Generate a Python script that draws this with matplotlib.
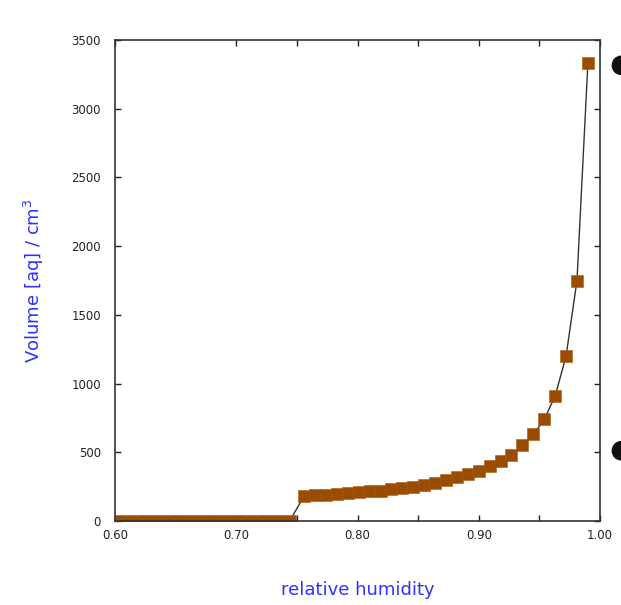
import matplotlib
matplotlib.use("Agg")
import matplotlib.pyplot as plt
from matplotlib.patches import Ellipse

# relative humidity / aqueous volume (cm^3)
rh_dry = [0.600, 0.609, 0.618, 0.627, 0.636, 0.645, 0.654, 0.663, 0.672,
          0.681, 0.690, 0.699, 0.708, 0.717, 0.726, 0.735, 0.744]
vol_dry = [0] * len(rh_dry)

rh_wet = [0.756, 0.765, 0.774, 0.783, 0.792, 0.801, 0.810, 0.819, 0.828,
          0.837, 0.846, 0.855, 0.864, 0.873, 0.882, 0.891, 0.900, 0.909,
          0.918, 0.927, 0.936, 0.945, 0.954, 0.963, 0.972, 0.981, 0.990]
vol_wet = [182, 186, 191, 196, 202, 208, 215, 222, 230, 239, 250, 262, 278,
           298, 320, 340, 364, 400, 437, 478, 550, 630, 740, 910, 1200,
           1750, 3330]

rh = rh_dry + rh_wet
vol = vol_dry + vol_wet

xticks = [0.60, 0.70, 0.80, 0.90, 1.00]
xlabels = ['0.60', '0.70', '0.80', '0.90', '1.00']
yticks = [0, 500, 1000, 1500, 2000, 2500, 3000, 3500]

fig = plt.figure(figsize=(6.21, 6.05), dpi=100)
ax = fig.add_axes([0.1852, 0.1388, 0.781, 0.7951])

ax.plot(rh, vol, color='#333333', lw=1.0, zorder=2)
ax.plot(rh, vol, ls='none', marker='s', ms=8, color='#9a4d00',
        mec='#a65a14', mew=0.4, zorder=3)

ax.set_xlim(0.60, 1.00)
ax.set_ylim(0, 3500)
ax.set_xticks(xticks)
ax.set_xticklabels(xlabels)
ax.set_xticks([0.75, 0.85, 0.95], minor=True)
ax.set_yticks(yticks)

ax.tick_params(which='both', direction='in', top=True, right=True,
               length=4, width=1, color='#222222', labelsize=8.5,
               labelcolor='#222222')
ax.tick_params(axis='y', pad=10)
ax.tick_params(axis='x', pad=6)
for s in ax.spines.values():
    s.set_color('#333333')
    s.set_linewidth(1.2)
    s.set_zorder(4)

ax.set_xlabel('relative humidity', color='#3030ff', fontsize=13, labelpad=28)
ax.set_ylabel('Volume [aq] / cm$^3$', color='#3030ff', fontsize=13, labelpad=18)

# partially visible dots on the right edge
for yy in [0.892, 0.255]:
    fig.patches.append(Ellipse((1.0, yy), 0.028, 0.03, transform=fig.transFigure,
                               color='#111111', clip_on=False))

fig.savefig('out.png', dpi=100)
